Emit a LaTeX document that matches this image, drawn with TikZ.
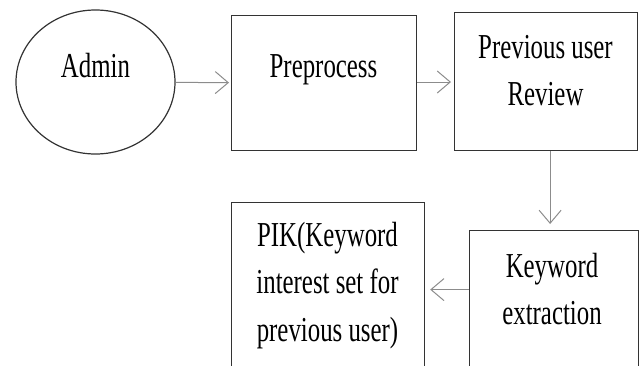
\documentclass[tikz,border=0pt]{standalone}
\usepackage{fontspec}
\usetikzlibrary{shapes.geometric,arrows.meta,calc}
\newfontfamily\labfont[FakeStretch=0.71]{Liberation Serif}
\definecolor{boxline}{HTML}{333333}
\definecolor{arrline}{HTML}{8C8C8C}
\tikzset{
  stepbox/.style={draw=boxline,line width=1.2pt,rectangle,inner sep=0pt,anchor=north west},
  startnode/.style={draw=boxline,line width=1.2pt,ellipse,inner sep=0pt,minimum width=159pt,minimum height=144pt},
  lab/.style={font=\labfont\fontsize{35}{47.5}\selectfont,align=center,anchor=base,inner sep=0pt},
  arr/.style={draw=arrline,line width=1pt,-{Straight Barb[length=13pt,width=22pt,line width=1pt]}},
}
\begin{document}
\begin{tikzpicture}[x=1pt,y=-1pt]
\useasboundingbox (0,0) rectangle (643,365);
\clip (0,0) rectangle (643,365);
% process shapes
\node[startnode] (admin) at (95.5,82) {};
\node[stepbox,minimum width=185pt,minimum height=135pt] (pre) at (231,15) {};
\node[stepbox,minimum width=183pt,minimum height=138pt] (rev) at (454,12) {};
\node[stepbox,minimum width=169pt,minimum height=150pt] (kw) at (469,230) {};
\node[stepbox,minimum width=193pt,minimum height=178pt] (pik) at (231,202) {};
% labels (a multi-line label sits on the baseline of its last line)
\node[lab] (tadmin) at (95.5,77) {Admin};
\node[lab] (tpre) at (323.5,77) {Preprocess};
\node[lab] (trev) at (545.5,105.5) {Previous user\\Review};
\node[lab] (tkw) at (552,324.5) {Keyword\\extraction};
\node[lab] (tpik) at (327.5,341) {PIK(Keyword\\interest set for\\previous user)};
% flow
\draw[arr,shorten >=2pt] (admin) -- (pre);
\draw[arr,shorten >=3pt] (pre.east |- 0,82) -- (rev.west |- 0,82);
\coordinate (mid) at ($(rev.south)!.5!(kw.north)$);
\draw[arr,shorten >=6pt] (rev.south -| mid) -- (kw.north -| mid);
\draw[arr,shorten >=5pt] ([yshift=16pt]kw.west) -- ([yshift=16pt]kw.west -| pik.east);
\end{tikzpicture}
\end{document}
